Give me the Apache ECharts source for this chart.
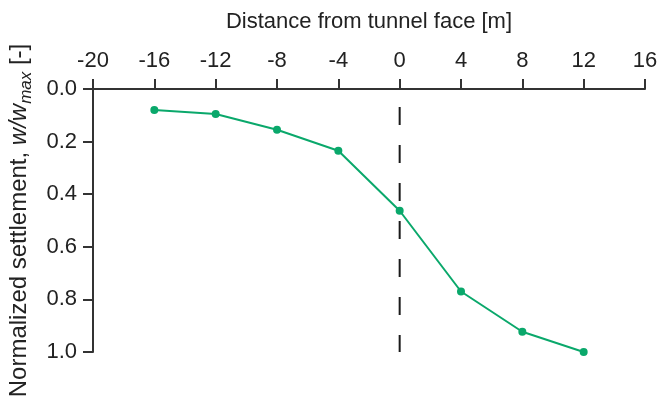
<!DOCTYPE html>
<html>
<head>
<meta charset="utf-8">
<script src="https://cdn.jsdelivr.net/npm/echarts@6/dist/echarts.min.js"></script>
<style>
  html, body { margin: 0; padding: 0; background: #fff; }
  #chart { width: 660px; height: 396px; }
</style>
</head>
<body>
<div id="chart"></div>
<script>
// Distance from the tunnel face [m] and normalized settlement w/w_max [-]
const distances = [-16, -12, -8, -4, 0, 4, 8, 12];
const settlement = [0.08, 0.095, 0.155, 0.235, 0.463, 0.77, 0.923, 1.0];
// Vertical reference line marking the tunnel face position
const faceLineX = [0, 0];
const faceLineY = [0.068, 1.0];

const FONT = '"Liberation Sans", Arial, sans-serif';
const AXIS_COLOR = '#333';
const TEXT_COLOR = '#222';
const GREEN = '#0aa86b';

const chart = echarts.init(document.getElementById('chart'), null, { renderer: 'canvas' });

chart.setOption({
  animation: false,
  backgroundColor: '#fff',
  grid: { left: 93, right: 15, top: 89, bottom: 44, containLabel: false, outerBoundsMode: 'none' },
  xAxis: {
    type: 'value',
    position: 'top',
    min: -20, max: 16, interval: 4,
    name: 'Distance from tunnel face [m]',
    nameLocation: 'middle',
    nameGap: 56,
    nameTextStyle: { fontFamily: FONT, fontSize: 22, color: TEXT_COLOR },
    axisLine: { show: true, onZero: false, lineStyle: { color: AXIS_COLOR, width: 2 } },
    axisTick: { show: true, inside: false, length: 10, lineStyle: { color: AXIS_COLOR, width: 2 } },
    axisLabel: { margin: 17, fontFamily: FONT, fontSize: 22, color: TEXT_COLOR, showMinLabel: true, showMaxLabel: true },
    splitLine: { show: false }
  },
  yAxis: {
    type: 'value',
    inverse: true,
    min: 0, max: 1.0, interval: 0.2,
    name: '{n|Normalized settlement, }{i|w/w}{s|max}{n| [-]}',
    nameLocation: 'middle',
    nameRotate: 90,
    nameGap: 62,
    nameTextStyle: {
      fontFamily: FONT, fontSize: 24, color: TEXT_COLOR,
      rich: {
        n: { fontFamily: FONT, fontSize: 24, color: TEXT_COLOR, verticalAlign: 'bottom', lineHeight: 30 },
        i: { fontFamily: FONT, fontSize: 24, fontStyle: 'italic', color: TEXT_COLOR, verticalAlign: 'bottom', lineHeight: 30 },
        s: { fontFamily: FONT, fontSize: 17, fontStyle: 'italic', color: TEXT_COLOR, verticalAlign: 'bottom', lineHeight: 21, padding: [0, 0, -4, 0] }
      }
    },
    axisLine: { show: true, onZero: false, lineStyle: { color: AXIS_COLOR, width: 2 } },
    axisTick: { show: true, inside: false, length: 10, lineStyle: { color: AXIS_COLOR, width: 2 } },
    axisLabel: {
      margin: 16, fontFamily: FONT, fontSize: 22, color: TEXT_COLOR,
      formatter: v => v.toFixed(1)
    },
    splitLine: { show: false }
  },
  series: [
    {
      type: 'line',
      data: faceLineX.map((x, i) => [x, faceLineY[i]]),
      symbol: 'none',
      lineStyle: { color: '#1a1a1a', width: 2, type: [18, 20] },
      z: 1,
      silent: true
    },
    {
      type: 'line',
      data: distances.map((d, i) => [d, settlement[i]]),
      symbol: 'circle',
      symbolSize: 8,
      itemStyle: { color: GREEN },
      lineStyle: { color: GREEN, width: 2 },
      z: 2
    }
  ]
});
</script>
</body>
</html>
